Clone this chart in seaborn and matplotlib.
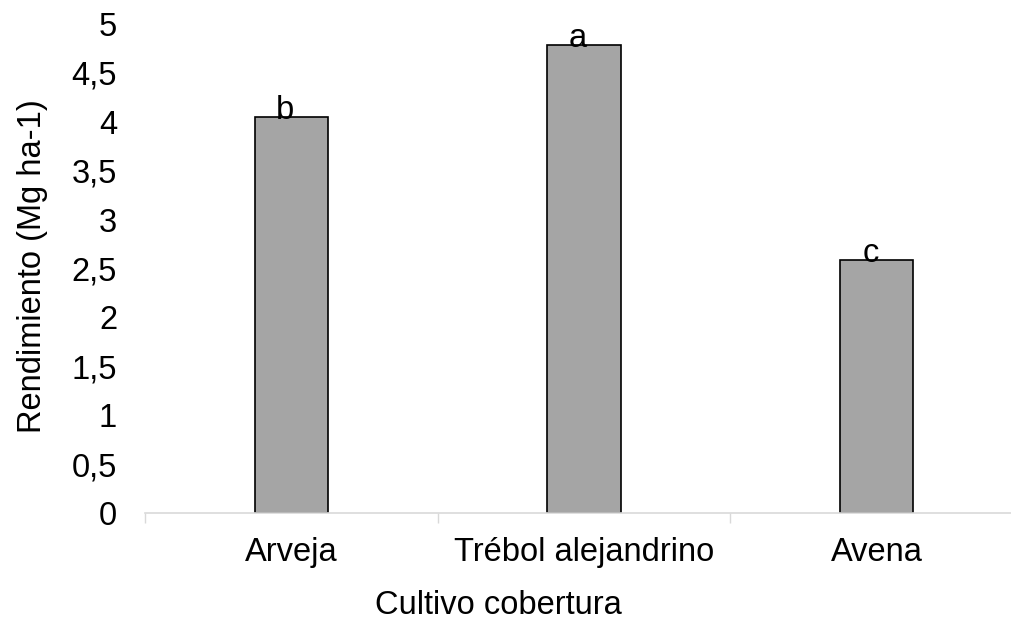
import matplotlib
matplotlib.use('Agg')
import matplotlib.pyplot as plt
import pandas as pd
import seaborn as sns

# data
cultivos = ['Arveja', 'Trébol alejandrino', 'Avena']
rendimiento = [4.05, 4.785, 2.59]
letras = ['b', 'a', 'c']
y_ticks = [0, 0.5, 1, 1.5, 2, 2.5, 3, 3.5, 4, 4.5, 5]
y_tick_labels = ['0', '0,5', '1', '1,5', '2', '2,5', '3', '3,5', '4', '4,5', '5']

df = pd.DataFrame({'cultivo': cultivos, 'rendimiento': rendimiento})

sns.set_style('white')
plt.rcParams['font.family'] = ['Liberation Sans', 'DejaVu Sans']
plt.rcParams['text.color'] = 'black'
plt.rcParams['axes.labelcolor'] = 'black'
plt.rcParams['xtick.color'] = 'black'
plt.rcParams['ytick.color'] = 'black'

fs = 23.5

fig = plt.figure(figsize=(10.11, 6.22), dpi=100)
ax = fig.add_axes([0.1434, 0.1752, 0.8685, 0.7862])

sns.barplot(data=df, x='cultivo', y='rendimiento', color='#A5A5A5',
            saturation=1, width=0.25, edgecolor='black', linewidth=1.2, ax=ax)

# significance letters sitting on the bar tops
for i, (v, l) in enumerate(zip(rendimiento, letras)):
    ax.text(i - 0.02, v - 0.02, l, ha='center', va='baseline', fontsize=fs, color='black')

ax.set_xlim(-0.5, 2.5)
ax.set_ylim(0, 5)
ax.set_yticks(y_ticks)
ax.set_yticklabels(y_tick_labels)

# category boundary ticks on the x axis
ax.set_xticks([-0.5, 0.5, 1.5, 2.5], minor=True)
ax.tick_params(axis='x', which='minor', length=7, width=1, color='#D9D9D9', direction='out', bottom=True)
ax.tick_params(axis='x', which='major', length=0, pad=17, labelsize=fs)
ax.tick_params(axis='y', length=0, pad=20, labelsize=fs)

for s in ['top', 'right', 'left']:
    ax.spines[s].set_visible(False)
ax.spines['bottom'].set_color('#D9D9D9')
ax.spines['bottom'].set_linewidth(1.2)
ax.grid(False)

ax.set_xlabel('Cultivo cobertura', fontsize=fs)
ax.set_ylabel('Rendimiento (Mg ha-1)', fontsize=fs)
ax.xaxis.set_label_coords(0.403, -0.158)
ax.yaxis.set_label_coords(-0.110, 0.505)

fig.savefig('out.png', dpi=100)
